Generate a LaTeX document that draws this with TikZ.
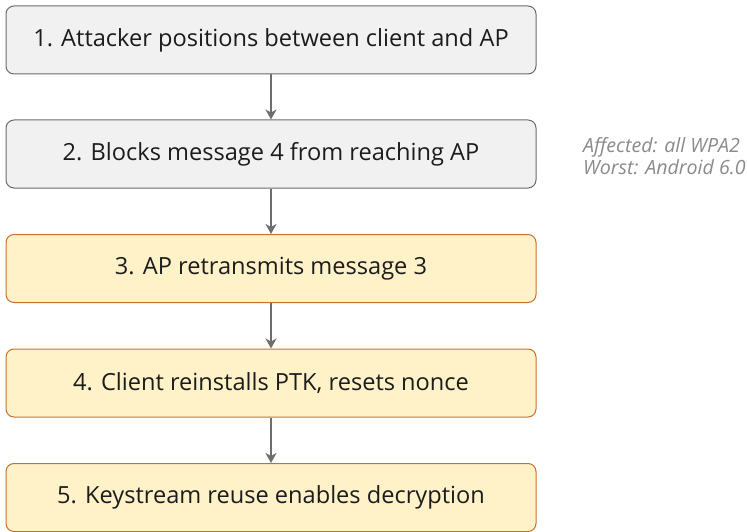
\documentclass[tikz,border=0pt]{standalone}
\usepackage{fontspec}
\setmainfont{Open Sans}
\usetikzlibrary{arrows.meta}
\definecolor{stepgrey}{HTML}{F1F1F1}
\definecolor{stepgreyline}{HTML}{6B6B6B}
\definecolor{stepyellow}{HTML}{FFF2C9}
\definecolor{stepyellowline}{HTML}{C8702E}
\definecolor{linkgrey}{HTML}{6E6E6E}
\definecolor{notegrey}{HTML}{8A8A8A}
\definecolor{textdark}{HTML}{1C1C1C}
\tikzset{
  stepbox/.style={draw, rounded corners=8pt, line width=1pt,
    minimum width=530pt, minimum height=68pt, inner sep=0pt,
    font=\fontsize{23.6}{28}\selectfont, text=textdark},
  plainstep/.style={stepbox, fill=stepgrey, draw=stepgreyline},
  hotstep/.style={stepbox, fill=stepyellow, draw=stepyellowline},
  link/.style={draw=linkgrey, line width=2pt,
    -{Stealth[length=10pt,width=11pt,inset=3pt]}},
  note/.style={font=\fontsize{19.6}{21.5}\itshape, text=notegrey, align=left, anchor=west}
}
\begin{document}
\begin{tikzpicture}[x=1pt,y=-1pt]
  \useasboundingbox (0,0) rectangle (747,532);
  \node[plainstep] (s1) at (271,40) {1. Attacker positions between client and AP};
  \node[plainstep] (s2) at (271,154) {2. Blocks message 4 from reaching AP};
  \node[hotstep] (s3) at (271,268.5) {3. AP retransmits message 3};
  \node[hotstep] (s4) at (271,383) {4. Client reinstalls PTK, resets nonce};
  \node[hotstep] (s5) at (271,497.5) {5. Keystream reuse enables decryption};
  \node[note, inner sep=0pt] (n) at (583,156) {Affected: all WPA2\\Worst: Android 6.0};
  \draw[link] (s1) -- (s2);
  \draw[link] (s2) -- (s3);
  \draw[link] (s3) -- (s4);
  \draw[link] (s4) -- (s5);
\end{tikzpicture}
\end{document}
